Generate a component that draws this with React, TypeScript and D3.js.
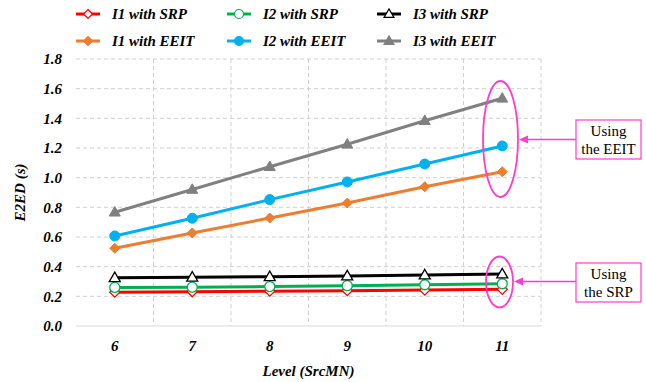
import React, { useEffect, useRef } from "react";
import * as d3 from "d3";

const levels = ["6", "7", "8", "9", "10", "11"];
const yTicks = [0, 0.2, 0.4, 0.6, 0.8, 1.0, 1.2, 1.4, 1.6, 1.8];

const i1Srp = [0.228, 0.231, 0.235, 0.238, 0.242, 0.247];
const i2Srp = [0.26, 0.262, 0.266, 0.272, 0.278, 0.285];
const i3Srp = [0.325, 0.328, 0.332, 0.337, 0.343, 0.35];
const i1Eeit = [0.524, 0.627, 0.728, 0.829, 0.939, 1.04];
const i2Eeit = [0.607, 0.726, 0.852, 0.971, 1.092, 1.214];
const i3Eeit = [0.767, 0.92, 1.074, 1.225, 1.384, 1.535];

const seriesNames = [
  "I1 with SRP",
  "I2 with SRP",
  "I3 with SRP",
  "I1 with EEIT",
  "I2 with EEIT",
  "I3 with EEIT",
];

const series = [
  { name: seriesNames[0], values: i1Srp, color: "#FF0000", marker: "diamond", filled: false },
  { name: seriesNames[1], values: i2Srp, color: "#00B050", marker: "circle", filled: false },
  { name: seriesNames[2], values: i3Srp, color: "#000000", marker: "triangle", filled: false },
  { name: seriesNames[3], values: i1Eeit, color: "#ED7D31", marker: "diamond", filled: true },
  { name: seriesNames[4], values: i2Eeit, color: "#00B0F0", marker: "circle", filled: true },
  { name: seriesNames[5], values: i3Eeit, color: "#808080", marker: "triangle", filled: true },
];

const FONT = "'Liberation Serif', 'Times New Roman', serif";
const PINK = "#FF3CCB";

const App = () => {
  const svgRef = useRef<SVGSVGElement>(null);
  const width = 646;
  const height = 382;

  useEffect(() => {
    const svg = d3.select(svgRef.current);
    svg.selectAll("*").remove();

    const margin = { top: 59, left: 76, right: 105, bottom: 56 };
    const innerW = width - margin.left - margin.right;
    const innerH = height - margin.top - margin.bottom;

    const x = d3.scaleBand().domain(levels).range([0, innerW]);
    const y = d3.scaleLinear().domain([0, 1.8]).range([innerH, 0]);

    const g = svg.append("g").attr("transform", `translate(${margin.left},${margin.top})`);

    const boldItalic = (sel: any) =>
      sel
        .style("font-family", FONT)
        .style("font-size", "15px")
        .style("font-weight", "bold")
        .style("font-style", "italic")
        .attr("fill", "#000");

    // grid
    g.selectAll(".hgrid")
      .data(yTicks.slice(1))
      .enter()
      .append("line")
      .attr("x1", 0)
      .attr("x2", innerW)
      .attr("y1", (d) => y(d))
      .attr("y2", (d) => y(d))
      .attr("stroke", "#D0D0D0")
      .attr("stroke-dasharray", "4,3");

    g.selectAll(".vgrid")
      .data(levels)
      .enter()
      .append("line")
      .attr("x1", (d) => x(d)! + x.bandwidth())
      .attr("x2", (d) => x(d)! + x.bandwidth())
      .attr("y1", 0)
      .attr("y2", innerH)
      .attr("stroke", "#D0D0D0")
      .attr("stroke-dasharray", "4,3");

    g.append("line")
      .attr("x1", 0)
      .attr("x2", innerW)
      .attr("y1", innerH)
      .attr("y2", innerH)
      .attr("stroke", "#D9D9D9");

    // axes
    const yAxis = g.append("g").call(
      d3.axisLeft(y).tickValues(yTicks).tickFormat(d3.format(".1f")).tickSize(0).tickPadding(14)
    );
    yAxis.select(".domain").remove();
    boldItalic(yAxis.selectAll("text"));

    const xAxis = g
      .append("g")
      .attr("transform", `translate(0,${innerH})`)
      .call(d3.axisBottom(x).tickSize(0).tickPadding(14));
    xAxis.select(".domain").remove();
    boldItalic(xAxis.selectAll("text"));

    boldItalic(
      svg
        .append("text")
        .attr("x", margin.left + innerW / 2)
        .attr("y", 376)
        .attr("text-anchor", "middle")
        .text("Level (SrcMN)")
    );

    boldItalic(
      svg
        .append("text")
        .attr("transform", `translate(25,${margin.top + innerH / 2}) rotate(-90)`)
        .attr("text-anchor", "middle")
        .text("E2ED (s)")
    );

    const markerPath = (m: string, scale: number) => {
      const r = 5 * scale;
      if (m === "diamond") return `M0,${-r}L${r},0L0,${r}L${-r},0Z`;
      if (m === "circle") return d3.symbol().type(d3.symbolCircle).size(Math.PI * r * r)()!;
      const h = r * 1.9;
      return `M0,${-h * 0.6}L${r * 1.1},${h * 0.4}L${-r * 1.1},${h * 0.4}Z`;
    };

    const line = d3
      .line<number>()
      .x((_, i) => x(levels[i])! + x.bandwidth() / 2)
      .y((d) => y(d));

    series.forEach((s) => {
      g.append("path")
        .datum(s.values)
        .attr("fill", "none")
        .attr("stroke", s.color)
        .attr("stroke-width", 3)
        .attr("d", line);
      g.selectAll(null)
        .data(s.values)
        .enter()
        .append("path")
        .attr("d", markerPath(s.marker, 1))
        .attr("transform", (d, i) => `translate(${x(levels[i])! + x.bandwidth() / 2},${y(d)})`)
        .attr("fill", s.filled ? s.color : "#fff")
        .attr("stroke", s.color)
        .attr("stroke-width", s.filled ? 1 : 1.3);
    });

    // annotations
    const ann = svg.append("g");
    ann
      .append("ellipse")
      .attr("cx", 500.5)
      .attr("cy", 139)
      .attr("rx", 17.5)
      .attr("ry", 58)
      .attr("fill", "none")
      .attr("stroke", PINK)
      .attr("stroke-width", 1.8);
    ann
      .append("ellipse")
      .attr("cx", 499.5)
      .attr("cy", 282)
      .attr("rx", 13.5)
      .attr("ry", 25.5)
      .attr("fill", "none")
      .attr("stroke", PINK)
      .attr("stroke-width", 1.8);

    const arrow = (x1: number, x2: number, yy: number) => {
      ann
        .append("line")
        .attr("x1", x1)
        .attr("x2", x2 + 8)
        .attr("y1", yy)
        .attr("y2", yy)
        .attr("stroke", PINK)
        .attr("stroke-width", 1.5);
      ann
        .append("path")
        .attr("d", `M${x2},${yy} L${x2 + 9},${yy - 4} L${x2 + 9},${yy + 4} Z`)
        .attr("fill", PINK);
    };
    arrow(576, 519, 139.5);
    arrow(576, 514, 281.5);

    const box = (y0: number, lines: string[]) => {
      ann
        .append("rect")
        .attr("x", 576)
        .attr("y", y0)
        .attr("width", 65)
        .attr("height", 39)
        .attr("fill", "#fff")
        .attr("stroke", PINK)
        .attr("stroke-width", 1.2);
      lines.forEach((t, i) => {
        ann
          .append("text")
          .attr("x", 608.5)
          .attr("y", y0 + 16 + i * 18)
          .attr("text-anchor", "middle")
          .style("font-family", FONT)
          .style("font-size", "15px")
          .text(t);
      });
    };
    box(120, ["Using", "the EEIT"]);
    box(263, ["Using", "the SRP"]);

    // legend
    const legendCols = [76, 227, 377];
    const legendRows = [14, 41];
    const lg = svg.append("g");
    series.forEach((s, i) => {
      const cx = legendCols[i % 3];
      const cy = legendRows[Math.floor(i / 3)];
      lg.append("line")
        .attr("x1", cx)
        .attr("x2", cx + 24)
        .attr("y1", cy)
        .attr("y2", cy)
        .attr("stroke", s.color)
        .attr("stroke-width", 3);
      lg.append("path")
        .attr("d", markerPath(s.marker, 0.9))
        .attr("transform", `translate(${cx + 12},${cy})`)
        .attr("fill", s.filled ? s.color : "#fff")
        .attr("stroke", s.color)
        .attr("stroke-width", 1.2);
      boldItalic(
        lg
          .append("text")
          .attr("x", cx + 36)
          .attr("y", cy + 5)
          .text(s.name)
      );
    });
  }, []);

  return (
    <svg
      ref={svgRef}
      width={width}
      height={height}
      style={{ position: "absolute", left: 0, top: 0, background: "#fff" }}
    ></svg>
  );
};

export default App;
